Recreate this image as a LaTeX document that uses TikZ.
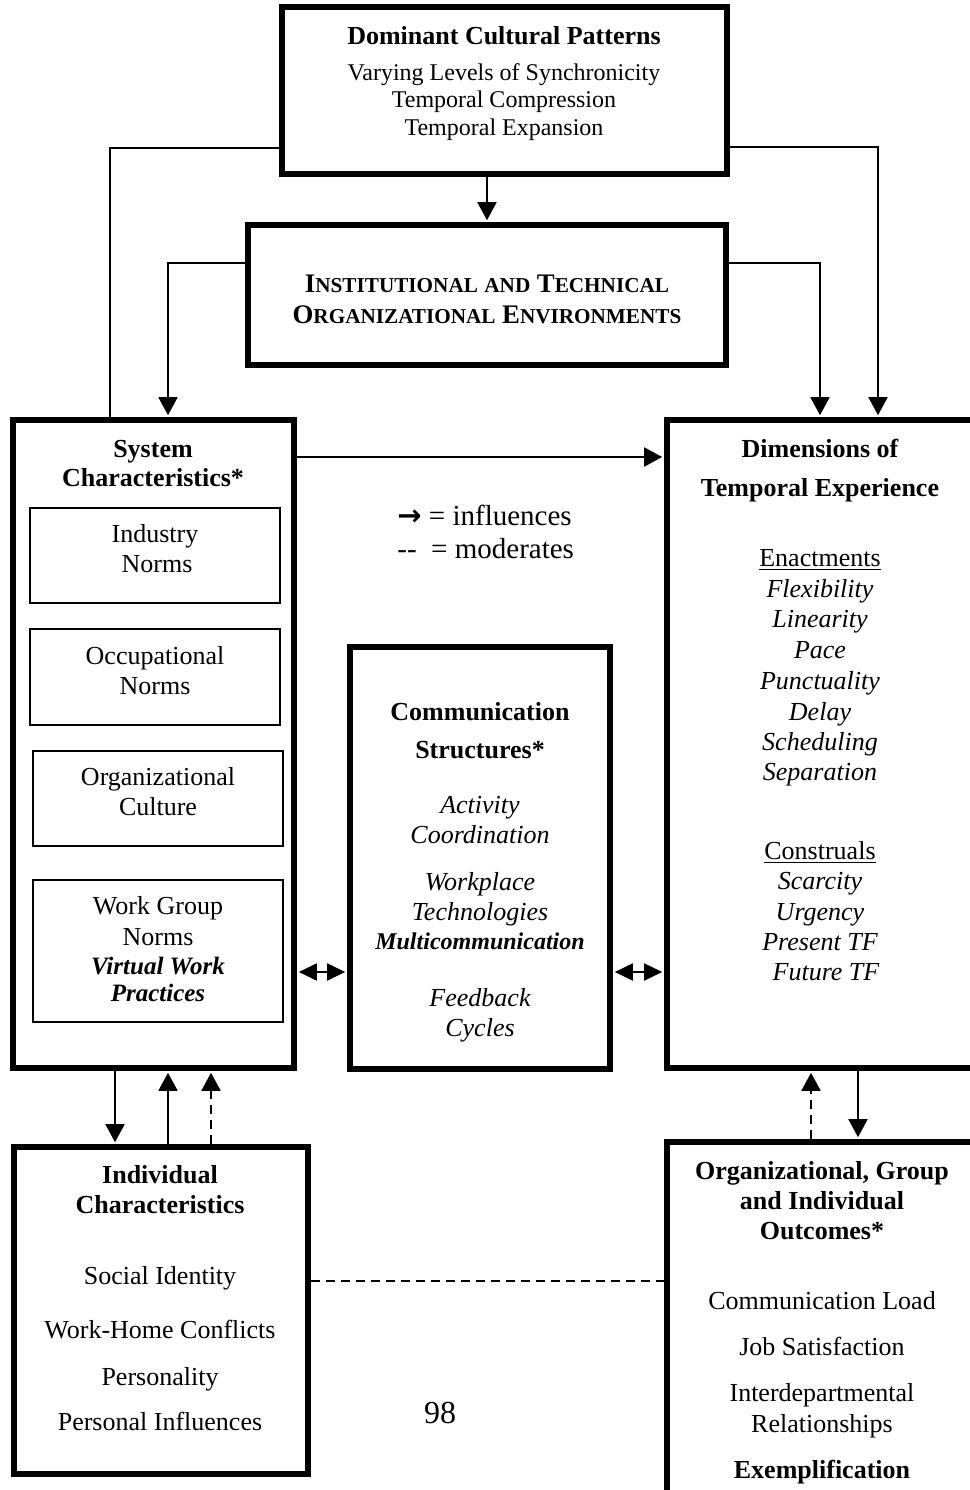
\documentclass[tikz,border=0pt]{standalone}
\usepackage{fontspec}
\setmainfont{Liberation Serif}
\newfontfamily\djv{DejaVu Sans}
\usetikzlibrary{arrows.meta,fit}
\newcommand\Tline[5][]{\node[tx,#1] (#2) at (#3,#4) {#5};}
\newcommand\SCap[2]{{\fontsize{13.4}{15}\selectfont #1}{\fontsize{10.6}{15}\selectfont #2}}
\begin{document}
\begin{tikzpicture}[x=0.5pt,y=-0.5pt,
  bigbox/.style={draw, line width=2.6pt, inner sep=0pt},
  smallbox/.style={draw, line width=0.9pt, inner sep=0pt},
  conn/.style={line width=0.9pt},
  arr/.style={conn,-{Triangle[length=9pt,width=9.5pt]},shorten >=1.1pt},
  darr/.style={conn,{Triangle[length=9pt,width=8.5pt]}-{Triangle[length=9pt,width=8.5pt]},shorten >=1.1pt,shorten <=1.1pt},
  modarr/.style={arr,dash pattern=on 4.5pt off 3pt},
  modline/.style={conn,dash pattern=on 4.5pt off 3pt},
  tx/.style={anchor=base,inner sep=0pt,font=\fontsize{13}{15}\selectfont},
  sm/.style={font=\fontsize{12}{14}\selectfont},
  lg/.style={anchor=base west,inner sep=0pt,font=\fontsize{14.5}{17}\selectfont}
]
\useasboundingbox (0,0) rectangle (970,1490);

% ---- boxes ----
\node[bigbox, fit={(282,7) (727,174)}] (dom) {};
\node[bigbox, fit={(248,225) (726,365)}] (inst) {};
\node[bigbox, fit={(13,420) (294,1068)}] (sys) {};
\node[bigbox, fit={(667,420) (982,1068)}] (dim) {};
\node[bigbox, fit={(350,647) (610,1069)}] (comm) {};
\node[bigbox, fit={(14,1147) (308,1474)}] (ind) {};
\node[bigbox, fit={(667,1142) (982,1505)}] (out) {};
\node[smallbox, fit={(30,508) (280,603)}] (ib1) {};
\node[smallbox, fit={(30,629) (280,725)}] (ib2) {};
\node[smallbox, fit={(33,751) (283,846)}] (ib3) {};
\node[smallbox, fit={(33,880) (283,1022)}] (ib4) {};

% ---- texts ----
\Tline{domT}{504}{44}{\bfseries Dominant Cultural Patterns}
\Tline[sm]{dom1}{504}{80}{Varying Levels of Synchronicity}
\Tline[sm]{dom2}{504}{107}{Temporal Compression}
\Tline[sm]{dom3}{504}{135}{Temporal Expansion}

\Tline{inst1}{487}{292}{\bfseries\SCap{I}{NSTITUTIONAL} \SCap{}{AND} \SCap{T}{ECHNICAL}}
\Tline{inst2}{487}{323}{\bfseries\SCap{O}{RGANIZATIONAL} \SCap{E}{NVIRONMENTS}}

\Tline{sysT1}{153}{457}{\bfseries System}
\Tline{sysT2}{153}{486}{\bfseries Characteristics*}
\Tline{ib1a}{155}{542}{Industry}
\Tline{ib1b}{157}{572}{Norms}
\Tline{ib2a}{155}{664}{Occupational}
\Tline{ib2b}{155}{694}{Norms}
\Tline{ib3a}{158}{785}{Organizational}
\Tline{ib3b}{158}{815}{Culture}
\Tline{ib4a}{158}{914}{Work Group}
\Tline{ib4b}{158}{945}{Norms}
\Tline[font=\fontsize{12.5}{15}\selectfont]{ib4c}{158}{974}{\bfseries\itshape Virtual Work}
\Tline[font=\fontsize{12.5}{15}\selectfont]{ib4d}{158}{1001}{\bfseries\itshape Practices}

\node[lg] (leg1) at (397,525) {{\djv\bfseries →} = influences};
\node[lg] (leg2) at (397,558) {-{}- \ = moderates};

\Tline{dimT1}{820}{457}{\bfseries Dimensions of}
\Tline{dimT2}{820}{496}{\bfseries Temporal Experience}
\Tline{dimE}{820}{566}{\underline{Enactments}}
\Tline{dim1}{820}{597}{\itshape Flexibility}
\Tline{dim2}{820}{627}{\itshape Linearity}
\Tline{dim3}{820}{658}{\itshape Pace}
\Tline{dim4}{820}{689}{\itshape Punctuality}
\Tline{dim5}{820}{720}{\itshape Delay}
\Tline{dim6}{820}{750}{\itshape Scheduling}
\Tline{dim7}{820}{780}{\itshape Separation}
\Tline{dimC}{820}{859}{\underline{Construals}}
\Tline{dim8}{820}{889}{\itshape Scarcity}
\Tline{dim9}{820}{920}{\itshape Urgency}
\Tline{dim10}{820}{950}{\itshape Present TF}
\Tline{dim11}{826}{980}{\itshape Future TF}

\Tline{comT1}{480}{720}{\bfseries Communication}
\Tline{comT2}{480}{758}{\bfseries Structures*}
\Tline{com1}{480}{813}{\itshape Activity}
\Tline{com2}{480}{843}{\itshape Coordination}
\Tline{com3}{480}{890}{\itshape Workplace}
\Tline{com4}{480}{920}{\itshape Technologies}
\Tline[font=\fontsize{12}{14}\selectfont]{com5}{480}{949}{\bfseries\itshape Multicommunication}
\Tline{com6}{480}{1006}{\itshape Feedback}
\Tline{com7}{480}{1036}{\itshape Cycles}

\Tline{indT1}{160}{1183}{\bfseries Individual}
\Tline{indT2}{160}{1213}{\bfseries Characteristics}
\Tline{ind1}{160}{1284}{Social Identity}
\Tline{ind2}{160}{1338}{Work-Home Conflicts}
\Tline{ind3}{160}{1385}{Personality}
\Tline{ind4}{160}{1430}{Personal Influences}

\Tline{outT1}{822}{1179}{\bfseries Organizational, Group}
\Tline{outT2}{822}{1209}{\bfseries and Individual}
\Tline{outT3}{822}{1239}{\bfseries Outcomes*}
\Tline{out1}{822}{1309}{Communication Load}
\Tline{out2}{822}{1355}{Job Satisfaction}
\Tline{out3}{822}{1401}{Interdepartmental}
\Tline{out4}{822}{1432}{Relationships}
\Tline{out5}{822}{1478}{\bfseries Exemplification}

\Tline[font=\fontsize{16}{18}\selectfont]{pg}{440}{1423}{98}

% ---- connectors ----
\draw[arr] (inst.north |- dom.south) -- (inst.north);
\draw[conn] (dom.west |- 0,148) -| (sys.north -| 110,0);
\draw[arr] (dom.east |- 0,147) -| (dim.north -| 878,0);
\draw[arr] (inst.west |- 0,263) -| (sys.north -| 168,0);
\draw[arr] (inst.east |- 0,263) -| (dim.north -| 820,0);
\draw[arr] (sys.east |- 0,457) -- (dim.west |- 0,457);
\draw[darr] (sys.east |- 0,972) -- (comm.west |- 0,972);
\draw[darr] (comm.east |- 0,972) -- (dim.west |- 0,972);
\draw[arr] (sys.south -| 115,0) -- (ind.north -| 115,0);
\draw[arr] (ind.north -| 168,0) -- (sys.south -| 168,0);
\draw[modarr] (ind.north -| 211,0) -- (sys.south -| 211,0);
\draw[modarr] (out.north -| 811,0) -- (dim.south -| 811,0);
\draw[arr] (dim.south -| 858,0) -- (out.north -| 858,0);
\draw[modline] (ind.east |- 0,1281) -- (out.west |- 0,1281);
\end{tikzpicture}
\end{document}
